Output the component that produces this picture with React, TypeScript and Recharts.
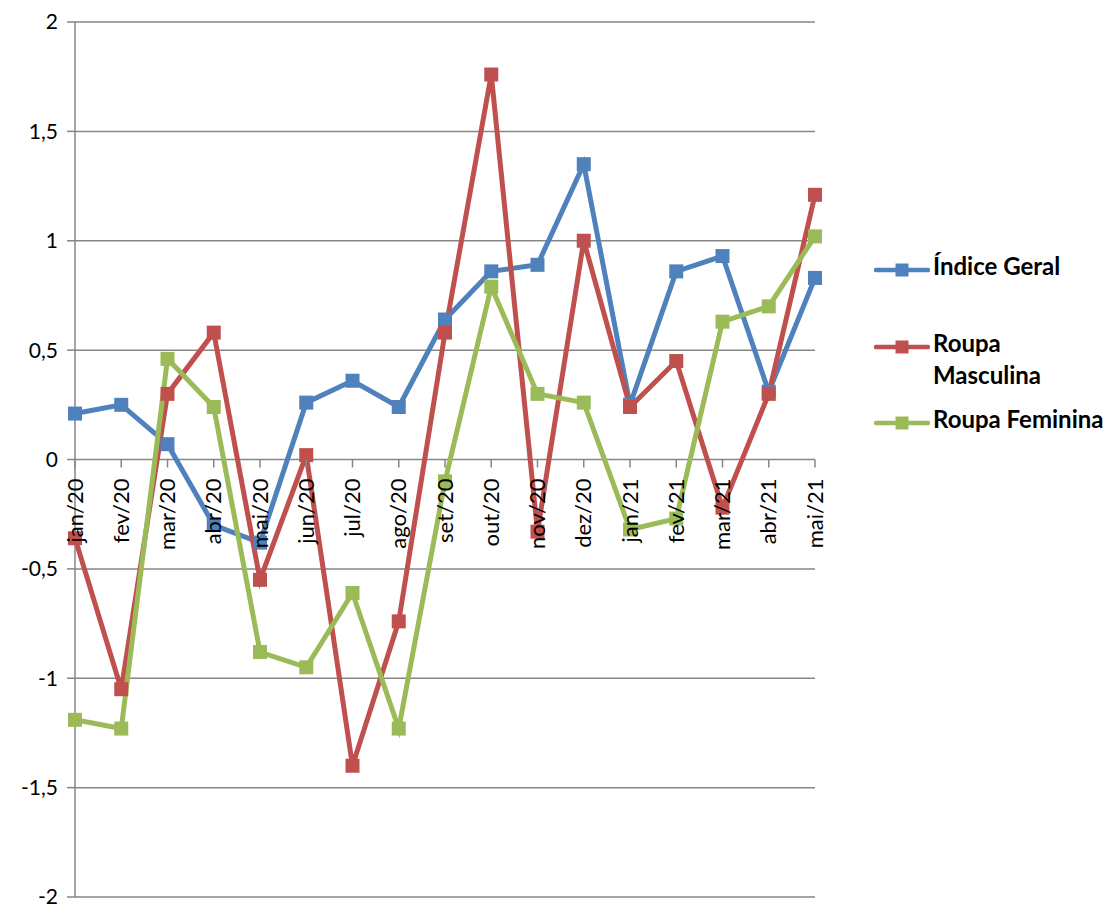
import React from 'react'
import { LineChart, Line, XAxis, YAxis, CartesianGrid } from 'recharts'

// meses (eixo X)
const categories = [
  'jan/20', 'fev/20', 'mar/20', 'abr/20', 'mai/20', 'jun/20', 'jul/20', 'ago/20', 'set/20',
  'out/20', 'nov/20', 'dez/20', 'jan/21', 'fev/21', 'mar/21', 'abr/21', 'mai/21',
]

const indiceGeral = [0.21, 0.25, 0.07, -0.3, -0.38, 0.26, 0.36, 0.24, 0.64, 0.86, 0.89, 1.35, 0.25, 0.86, 0.93, 0.31, 0.83]
const roupaMasculina = [-0.36, -1.05, 0.3, 0.58, -0.55, 0.02, -1.4, -0.74, 0.58, 1.76, -0.33, 1.0, 0.24, 0.45, -0.22, 0.3, 1.21]
const roupaFeminina = [-1.19, -1.23, 0.46, 0.24, -0.88, -0.95, -0.61, -1.23, -0.1, 0.79, 0.3, 0.26, -0.32, -0.27, 0.63, 0.7, 1.02]

const yTicks = [-2, -1.5, -1, -0.5, 0, 0.5, 1, 1.5, 2]

const SERIES = [
  { key: 'geral', name: 'Índice Geral', color: '#4F81BD' },
  { key: 'masc', name: 'Roupa Masculina', color: '#C0504D' },
  { key: 'fem', name: 'Roupa Feminina', color: '#9BBB59' },
]

const W = 1112
const H = 907
const X_AXIS_H = 1
const MARGIN = { top: 22, right: 297, bottom: 9, left: 0 }
const PLOT_TOP = MARGIN.top
const PLOT_BOTTOM = H - MARGIN.bottom - X_AXIS_H
// eixo X cruza em y = 0 (meio do domínio [-2, 2])
const ZERO_Y = (PLOT_TOP + PLOT_BOTTOM) / 2

const FONT = 'Lato, "Noto Sans", sans-serif'
const GRID = '#868686'

const data = categories.map((mes, i) => ({
  mes,
  geral: indiceGeral[i],
  masc: roupaMasculina[i],
  fem: roupaFeminina[i],
}))

function MonthTick({ x, payload }: { x?: number; payload?: { value: string } }) {
  const ty = ZERO_Y + 19
  return (
    <g>
      <line x1={x} x2={x} y1={ZERO_Y} y2={ZERO_Y + 8} stroke={GRID} strokeWidth={1.5} />
      <text
        x={x}
        y={ty}
        transform={`rotate(-90, ${x}, ${ty})`}
        textAnchor="end"
        dy="0.35em"
        fontSize={22}
        fontFamily={FONT}
        fill="#000"
      >
        {payload?.value}
      </text>
    </g>
  )
}

const squareDot = (color: string) => (props: any) => {
  const { cx, cy, index } = props
  if (cx == null || cy == null) return <g key={index} />
  return <rect key={index} x={cx - 7} y={cy - 7} width={14} height={14} fill={color} />
}

function LegendIcon({ color }: { color: string }) {
  return (
    <svg width={56} height={16} style={{ display: 'block' }}>
      <line x1={2} x2={54} y1={8} y2={8} stroke={color} strokeWidth={4.5} strokeLinecap="round" />
      <rect x={21.5} y={1.5} width={13} height={13} fill={color} />
    </svg>
  )
}

function LegendBox() {
  const item = (top: number, color: string, label: React.ReactNode) => (
    <div style={{ position: 'absolute', left: 874, top, display: 'flex', alignItems: 'flex-start' }}>
      <div style={{ marginTop: 4 }}>
        <LegendIcon color={color} />
      </div>
      <div style={{ marginLeft: 3, fontFamily: FONT, fontWeight: 700, fontSize: 24, lineHeight: '32px', marginTop: -8, color: '#000', whiteSpace: 'nowrap' }}>
        {label}
      </div>
    </div>
  )
  return (
    <>
      {item(258, SERIES[0].color, SERIES[0].name)}
      {item(335, SERIES[1].color, <>Roupa<br />Masculina</>)}
      {item(411, SERIES[2].color, SERIES[2].name)}
    </>
  )
}

export default function App() {
  return (
    <div style={{ position: 'absolute', left: 0, top: 0, width: W, height: H, background: '#fff' }}>
      <LineChart width={W} height={H} data={data} margin={MARGIN}>
        <CartesianGrid vertical={false} stroke={GRID} strokeWidth={1.5} />
        <XAxis
          dataKey="mes"
          height={X_AXIS_H}
          axisLine={false}
          tickLine={false}
          interval={0}
          tick={<MonthTick />}
        />
        <YAxis
          width={75}
          domain={[-2, 2]}
          ticks={yTicks}
          interval={0}
          tickSize={8}
          tickMargin={9}
          axisLine={{ stroke: GRID, strokeWidth: 1.5 }}
          tickLine={{ stroke: GRID, strokeWidth: 1.5 }}
          tick={{ fill: '#000', fontSize: 21, fontFamily: FONT }}
          tickFormatter={(v: number) => String(v).replace('.', ',')}
        />
        {SERIES.map((s) => (
          <Line
            key={s.key}
            dataKey={s.key}
            name={s.name}
            stroke={s.color}
            strokeWidth={5}
            dot={squareDot(s.color)}
            activeDot={false}
            isAnimationActive={false}
          />
        ))}
      </LineChart>
      <LegendBox />
    </div>
  )
}
